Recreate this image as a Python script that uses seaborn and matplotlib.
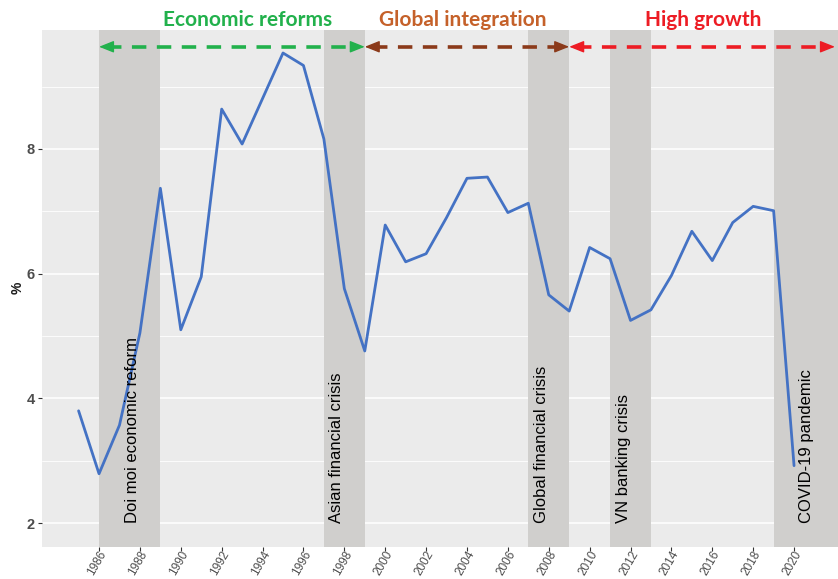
import numpy as np
import pandas as pd
import matplotlib
matplotlib.use("Agg")
import matplotlib.pyplot as plt
import seaborn as sns
from matplotlib.transforms import blended_transform_factory, ScaledTranslation

years = list(range(1985, 2021))
growth = [3.80, 2.79, 3.57, 5.05, 7.37, 5.10, 5.95, 8.64, 8.08, 8.81, 9.54, 9.34,
          8.16, 5.76, 4.76, 6.78, 6.19, 6.32, 6.90, 7.53, 7.55, 6.98, 7.13, 5.66,
          5.40, 6.42, 6.24, 5.25, 5.42, 5.97, 6.68, 6.21, 6.82, 7.08, 7.01, 2.92]

event_start = [1986, 1997, 2007, 2011, 2019]
event_end = [1989, 1999, 2009, 2013, 2023]
event_labels = ["Doi moi economic reform", "Asian financial crisis",
                "Global financial crisis", "VN banking crisis", "COVID-19 pandemic"]
event_label_x = [1988, 1998, 2008, 2012, 2021]

period_labels = ["Economic reforms", "Global integration", "High growth"]
period_start = [1986, 1999, 2009]
period_end = [1999, 2009, 2022]
period_label_x = [1993.26, 2003.8, 2015.55]
period_colors = ["#22B14C", "#C5612A", "#ED1C24"]
arrow_colors = ["#22B14C", "#8B3A1A", "#ED1C24"]

x_ticks = list(range(1986, 2021, 2))
y_ticks = [2, 4, 6, 8]

df = pd.DataFrame({"year": years, "growth": growth})

sns.set_theme(style="white")
plt.rcParams["font.family"] = ["Liberation Sans", "DejaVu Sans"]

fig = plt.figure(figsize=(8.38, 5.79), dpi=100)
W, H = 838, 579
left, right, top, bottom = 42, 838, 29.5, 546.7
ax = fig.add_axes([left / W, 1 - bottom / H, (right - left) / W, (bottom - top) / H])
ax.set_facecolor("#EBEBEB")
for s in ax.spines.values():
    s.set_visible(False)

ax.set_xlim(1983.21, 2022.15)
ax.set_ylim(1.62, 9.917)

# grid
for v in [2, 4, 6, 8]:
    ax.axhline(v, color="white", lw=1.1, zorder=0.5)
for v in [3, 5, 7, 9]:
    ax.axhline(v, color="white", lw=0.6, zorder=0.5)

# shaded events
for s, e in zip(event_start, event_end):
    ax.axvspan(s, e, color="#D0CFCD", lw=0, zorder=1)

sns.lineplot(data=df, x="year", y="growth", ax=ax, color="#4472C4", lw=2.0, zorder=3)

# event labels
for x, lab in zip(event_label_x, event_labels):
    ax.text(x, 2.0, lab, rotation=90, ha="right", va="bottom", fontsize=12,
            color="black", zorder=4)

# period arrows
ya = 9.64
for s, e, c in zip(period_start, period_end, arrow_colors):
    ax.plot([s + 0.4, e - 0.4], [ya, ya], color=c, lw=2.6, dashes=(4, 2.9),
            solid_capstyle="butt", dash_capstyle="butt", zorder=5, clip_on=False)
    for tip, base in [(s, s + 0.5), (e, e - 0.5)]:
        ax.annotate("", xy=(tip, ya), xytext=(base, ya),
                    arrowprops=dict(arrowstyle="-|>,head_length=0.9,head_width=0.36",
                                    color=c, lw=1, shrinkA=0, shrinkB=0,
                                    mutation_scale=10),
                    zorder=6, annotation_clip=False)

trans = blended_transform_factory(ax.transData, ax.transAxes)
for x, lab, c in zip(period_label_x, period_labels, period_colors):
    ax.text(x, 1.0068, lab, transform=trans, ha="center", va="baseline",
            fontsize=15, fontweight="bold", color=c, family=["Lato", "DejaVu Sans"])

ax.set_xticks(x_ticks)
ax.set_xticklabels([str(t) for t in x_ticks])
ax.set_yticks(y_ticks)
ax.set_yticklabels([str(t) for t in y_ticks])
ax.tick_params(axis="y", length=3, width=0.8, color="#333333", pad=2,
               labelsize=10.5, labelcolor="#4D4D4D", left=True)
ax.tick_params(axis="x", length=3, width=0.8, color="#333333", pad=0.5,
               labelsize=8.5, labelcolor="#4D4D4D", bottom=True)
for lab in ax.get_yticklabels():
    lab.set_fontweight("bold")
offset = ScaledTranslation(5 / 100, 0, fig.dpi_scale_trans)
for lab in ax.get_xticklabels():
    lab.set_rotation(60)
    lab.set_ha("right")
    lab.set_va("center")
    lab.set_rotation_mode("anchor")
    lab.set_transform(lab.get_transform() + offset)
ax.set_xlabel("")
ax.set_ylabel("")
fig.text(18 / W, 1 - 288 / H, "%", rotation=90, ha="center", va="center",
         fontsize=10, fontweight="bold", color="#1A1A1A")

fig.savefig("out.png", dpi=100)
